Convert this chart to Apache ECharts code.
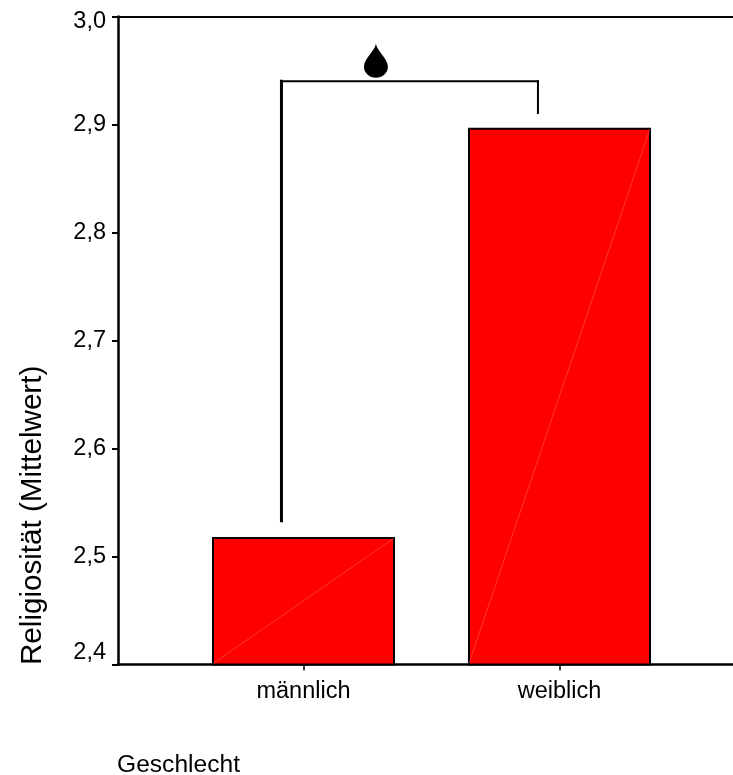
<!DOCTYPE html>
<html><head><meta charset="utf-8">
<style>html,body{margin:0;padding:0;background:#fff}#c{width:733px;height:775px}</style>
<script src="https://cdn.jsdelivr.net/npm/echarts@6/dist/echarts.min.js"></script>
</head><body><div id="c"></div>
<script>
const categories = ['männlich', 'weiblich'];
const meanValues = [2.518, 2.897];
const bracketLeftLeg = [[-0.086, 2.533], [-0.086, 2.94]];
const bracketTop = [[-0.086, 2.94], [0.916, 2.94]];
const bracketRightLeg = [[0.916, 2.94], [0.916, 2.9107]];
const markerPoint = [[0.283, 2.959]];
const xTitle = 'Geschlecht';
const yTitle = 'Religiosität (Mittelwert)';
const yMin = 2.4, yMax = 3.0, yStep = 0.1;
const FONT = '"Liberation Sans", Arial, sans-serif';
const INK = '#000';
const dropPath = 'path://M12 0 C13 7 24 15 24 23 A12 11 0 0 1 0 23 C0 15 11 7 12 0 Z';

const chart = echarts.init(document.getElementById('c'), null, {renderer: 'canvas'});
const lineSeries = (data, width) => ({
  type: 'line', xAxisIndex: 1, yAxisIndex: 1, data, showSymbol: false, symbol: 'none', silent: true,
  lineStyle: {color: INK, width, cap: 'square', opacity: 1}, z: 5
});
chart.setOption({
  animation: false,
  backgroundColor: '#fff',
  grid: [
    {left: 175.5, width: 512, top: 16.5, height: 648, outerBoundsMode: 'none'},
    {left: 118, right: 0, top: 16.5, height: 648, outerBoundsMode: 'none'}
  ],
  xAxis: [
    {type: 'category', gridIndex: 0, data: categories,
     axisLine: {show: false},
     axisTick: {show: true, alignWithLabel: true, length: 6, lineStyle: {color: INK, width: 1.5}},
     axisLabel: {color: INK, fontFamily: FONT, fontSize: 23.5, margin: 15}},
    {type: 'value', gridIndex: 1, min: -0.7246, max: 1.678, position: 'bottom',
     splitLine: {show: false}, axisTick: {show: false}, axisLabel: {show: false},
     axisLine: {show: true, onZero: false, lineStyle: {color: INK, width: 2.5}}},
    {type: 'value', gridIndex: 1, min: -0.7246, max: 1.678, position: 'top',
     splitLine: {show: false}, axisTick: {show: false}, axisLabel: {show: false},
     axisLine: {show: true, onZero: false, lineStyle: {color: INK, width: 2}}}
  ],
  yAxis: [
    {type: 'value', gridIndex: 0, min: yMin, max: yMax, interval: yStep, show: false},
    {type: 'value', gridIndex: 1, min: yMin, max: yMax, interval: yStep,
     splitLine: {show: false},
     axisLine: {show: true, onZero: false, lineStyle: {color: INK, width: 2.5}},
     axisTick: {show: true, length: 6, lineStyle: {color: INK, width: 2}},
     axisLabel: {color: INK, fontFamily: FONT, fontSize: 23.5, margin: 12,
       verticalAlignMinLabel: 'bottom', verticalAlignMaxLabel: 'middle',
       rich: {low: {color: INK, fontFamily: FONT, fontSize: 23.5, padding: [10, 0, 0, 0]}},
       formatter: v => {
         const s = v.toFixed(1).replace('.', ',');
         return v === yMax ? '{low|' + s + '}' : s;
       }}}
  ],
  graphic: [
    {type: 'text', left: 117, top: 753, style: {text: xTitle, fill: INK, font: '24.6px ' + FONT}},
    {type: 'text', x: 32.5, y: 665, rotation: Math.PI / 2,
     style: {text: yTitle, fill: INK, font: '29.6px ' + FONT, align: 'left', verticalAlign: 'middle'}}
  ],
  series: [
    {type: 'bar', xAxisIndex: 0, yAxisIndex: 0, data: meanValues, barWidth: '71.5%', silent: true,
     itemStyle: {color: '#ff0000', borderColor: INK, borderWidth: 2}, z: 2},
    {type: 'custom', xAxisIndex: 0, yAxisIndex: 0, data: meanValues, silent: true, z: 3,
     renderItem: (p, api) => {
       const top = api.coord([api.value(0), api.value(1)]);
       const base = api.coord([api.value(0), yMin]);
       const half = api.size([1, 0])[0] * 0.715 / 2 - 1;
       return {type: 'line', shape: {x1: top[0] - half, y1: base[1] - 1, x2: top[0] + half, y2: top[1] + 1},
         style: {stroke: '#ff6a6a', lineWidth: 0.5}};
     }, encode: {x: 0, y: 1}},
    lineSeries(bracketLeftLeg, 3),
    lineSeries(bracketTop, 2),
    lineSeries(bracketRightLeg, 2),
    {type: 'scatter', xAxisIndex: 1, yAxisIndex: 1, data: markerPoint, symbol: dropPath, symbolSize: [24, 34], silent: true,
     itemStyle: {color: INK, opacity: 1}, z: 6}
  ]
});
</script></body></html>
